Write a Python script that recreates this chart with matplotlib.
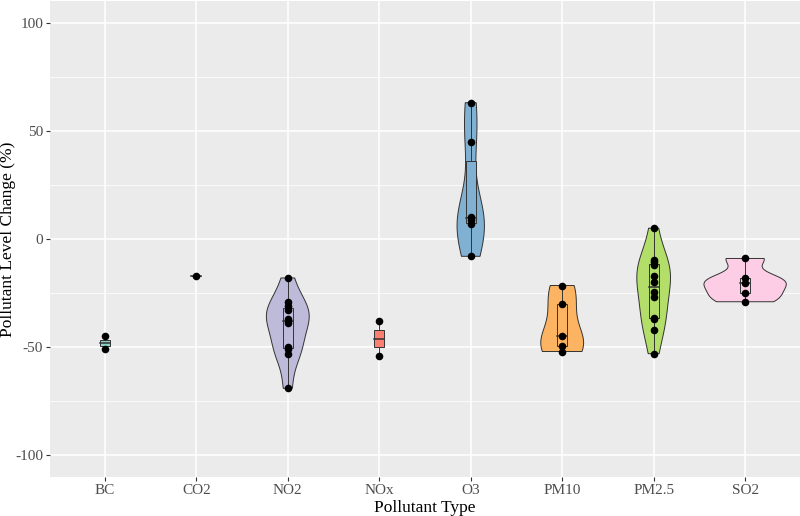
import matplotlib
matplotlib.use("Agg")
import matplotlib.pyplot as plt
import numpy as np

# pollutant groups, values (%)
pollutants = ['BC', 'CO2', 'NO2', 'NOx', 'O3', 'PM10', 'PM2.5', 'SO2']
bc = [-45, -51]
co2 = [-17]
no2 = [-18, -29, -31, -33, -37, -38, -39, -50, -51, -53, -69]
nox = [-38, -54]
o3 = [63, 45, 10, 9, 7, -8]
pm10 = [-21.5, -30, -45, -49.5, -52]
pm25 = [5, -9.5, -10.5, -12, -17, -20, -24.5, -27, -36.5, -37, -42, -53]
so2 = [-9, -18, -20.5, -25, -29]
groups = [bc, co2, no2, nox, o3, pm10, pm25, so2]

# RColorBrewer Set3
colors = ['#8DD3C7', '#FFFFB3', '#BEBADA', '#FB8072',
          '#80B1D3', '#FDB462', '#B3DE69', '#FCCDE5']

plt.rcParams['font.family'] = ['Liberation Serif', 'DejaVu Serif']


def kde(vals, n=512):
    # R style gaussian density, bw.nrd0, trimmed to data range
    v = np.asarray(vals, float)
    sd = v.std(ddof=1)
    iqr = np.subtract(*np.percentile(v, [75, 25]))
    lo = min(sd, iqr / 1.34) if iqr > 0 else sd
    bw = 0.9 * lo * len(v) ** (-0.2)
    y = np.linspace(v.min(), v.max(), n)
    d = np.exp(-0.5 * ((y[:, None] - v[None, :]) / bw) ** 2).sum(1)
    d = d / (len(v) * bw * np.sqrt(2 * np.pi))
    return y, d


fig = plt.figure(figsize=(8, 5.16), dpi=100)
ax = fig.add_axes([50 / 800, 1 - 477 / 516, 750 / 800, 476 / 516])
ax.set_facecolor('#EBEBEB')

dens = {}
for i, g in enumerate(groups):
    if len(g) >= 3:
        dens[i] = kde(g)
dmax = max(d.max() for _, d in dens.values())

for i, g in enumerate(groups):
    x0 = i + 1
    if i in dens:
        y, d = dens[i]
        w = d / dmax * 0.45
        xs = np.concatenate([x0 - w, (x0 + w)[::-1]])
        ys = np.concatenate([y, y[::-1]])
        ax.fill(xs, ys, facecolor=colors[i], edgecolor='#333333', lw=0.7, zorder=3)
    q1, med, q3 = np.percentile(g, [25, 50, 75])
    iq = q3 - q1
    lo = min(v for v in g if v >= q1 - 1.5 * iq)
    hi = max(v for v in g if v <= q3 + 1.5 * iq)
    bw = 0.055
    ax.plot([x0, x0], [q3, hi], color='#333333', lw=0.7, zorder=4)
    ax.plot([x0, x0], [lo, q1], color='#333333', lw=0.7, zorder=4)
    ax.add_patch(plt.Rectangle((x0 - bw, q1), 2 * bw, q3 - q1, facecolor=colors[i],
                               edgecolor='#333333', lw=0.7, zorder=4))
    ax.plot([x0 - bw, x0 + bw], [med, med], color='#333333', lw=1.1, zorder=5)
    ax.scatter([x0] * len(g), g, s=30, color='black', zorder=6, linewidths=0)

ax.set_xlim(0.4, 8.6)
ax.set_ylim(-110, 110)
ax.set_xticks(range(1, 9))
ax.set_xticklabels(pollutants)
ax.set_yticks([-100, -50, 0, 50, 100])
ax.set_yticklabels(['-100', '-50', '0', '50', '100'])
ax.set_yticks([-75, -25, 25, 75], minor=True)
ax.grid(which='major', color='white', lw=1.1, zorder=0)
ax.grid(which='minor', axis='y', color='white', lw=0.55, zorder=0)
ax.set_axisbelow(True)
for s in ax.spines.values():
    s.set_visible(False)
ax.tick_params(which='major', length=3, width=0.8, color='#333333',
               labelcolor='#4D4D4D', labelsize=11, pad=2)
ax.tick_params(which='minor', length=0)

ax.set_xlabel('Pollutant Type', fontsize=12.5, labelpad=2)
ax.set_ylabel('Pollutant Level Change (%)', fontsize=12.5)
ax.yaxis.set_label_coords(-0.045, 0.5)

fig.savefig('out.png', dpi=100)
